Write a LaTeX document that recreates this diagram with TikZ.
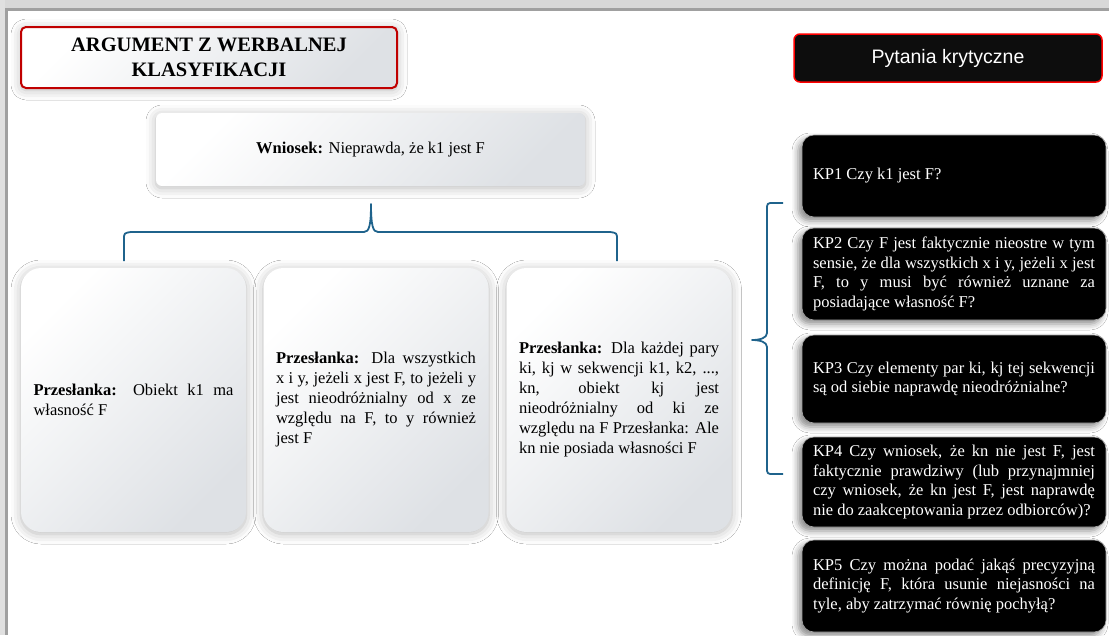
\documentclass[tikz,border=0pt]{standalone}
\usepackage{fontspec}
\setmainfont{Liberation Serif}
\newfontfamily\pytfont{Liberation Sans}
\usepackage{xcolor}
\definecolor{ramkared}{RGB}{192,0,0}
\definecolor{jaskrawyred}{RGB}{255,0,0}
\definecolor{klamrablue}{RGB}{31,99,140}
\definecolor{tlogray}{RGB}{222,225,229}
\definecolor{prawieczarny}{RGB}{13,13,13}
\definecolor{pasekgray}{RGB}{216,216,216}
\definecolor{pasekdark}{RGB}{160,160,160}
\usetikzlibrary{positioning,shadows.blur,calc}
\newcommand{\tekstfont}{\fontsize{16.5}{20}\selectfont}
\newcommand{\kpfont}{\fontsize{16.5}{19.5}\selectfont}

\begin{document}
\begin{tikzpicture}[x=1pt,y=-1pt,
  jasny/.style={top color=white,bottom color=tlogray,shading angle=45,
    blur shadow={shadow xshift=0pt,shadow yshift=-2pt,shadow blur radius=10pt,shadow opacity=28}},
  tytul/.style={jasny,draw=ramkared,line width=2pt,rounded corners=5pt,
    minimum width=376pt,minimum height=61pt,align=center,font=\fontsize{20.5}{25}\selectfont\bfseries},
  pytania/.style={fill=prawieczarny,draw=jaskrawyred,line width=1.5pt,rounded corners=6pt,
    minimum width=308pt,minimum height=48pt,text=white,font=\pytfont\fontsize{19.5}{22}\selectfont},
  wniosek/.style={jasny,rounded corners=6pt,minimum width=429pt,minimum height=73pt,font=\tekstfont},
  przeslanka/.style={jasny,rounded corners=20pt,minimum width=225pt,minimum height=264pt,
    text width=200pt,align=justify,font=\tekstfont},
  kp/.style={fill=black,draw=gray!70,line width=0.6pt,rounded corners=12pt,minimum width=304pt,
    text width=282pt,align=justify,text=white,font=\kpfont,
    blur shadow={shadow xshift=-4pt,shadow yshift=-4pt,shadow blur radius=6pt,shadow opacity=45}},
  klamra/.style={draw=klamrablue,line width=1.8pt,line join=round}]
  % tlo i ramka strony
  \fill[white] (0,0) rectangle (1109,635);
  \useasboundingbox (0,0) rectangle (1109,635);
  \fill[pasekgray] (0,0) rectangle (1109,8);
  \fill[pasekdark] (8,8) rectangle (1109,11);
  \fill[pasekgray!80!white] (0,0) rectangle (5,635);
  \fill[pasekdark] (5,8) rectangle (8,635);

  \node[tytul] (tytul) at (209,57.5) {ARGUMENT Z WERBALNEJ\\KLASYFIKACJI};
  \node[pytania] (pytania) at (948,58) {Pytania krytyczne};
  \node[wniosek] (wniosek) at (370.5,149.5) {\textbf{Wniosek:} Nieprawda, że k1 jest F};

  % przeslanki
  \node[przeslanka] (p1) at (133.5,400) {\textbf{Przesłanka:} Obiekt k1 ma\linebreak własność F};
  \node[przeslanka] (p2) at (376,400) {\textbf{Przesłanka:} Dla wszystkich\linebreak x i y, jeżeli x jest F, to jeżeli y\linebreak jest nieodróżnialny od x ze\linebreak względu na F, to y również\linebreak jest F};
  \node[przeslanka] (p3) at (619,400) {\textbf{Przesłanka:} Dla każdej pary\linebreak ki, kj w sekwencji k1, k2, ...,\linebreak kn, obiekt kj jest\linebreak nieodróżnialny od ki ze\linebreak względu na F Przesłanka: Ale\linebreak kn nie posiada własności F};

  % pytania krytyczne
  \node[kp,minimum height=82pt] (kp1) at (954,176) {KP1 Czy k1 jest F?};
  \node[kp,minimum height=92pt] (kp2) at (954,274) {KP2 Czy F jest faktycznie nieostre w tym\linebreak sensie, że dla wszystkich x i y, jeżeli x jest\linebreak F, to y musi być również uznane za\linebreak posiadające własność F?};
  \node[kp,minimum height=88pt] (kp3) at (954,379) {KP3 Czy elementy par ki, kj tej sekwencji\linebreak są od siebie naprawdę nieodróżnialne?};
  \node[kp,minimum height=90pt] (kp4) at (954,482) {KP4 Czy wniosek, że kn nie jest F, jest\linebreak faktycznie prawdziwy (lub przynajmniej\linebreak czy wniosek, że kn jest F, jest naprawdę\linebreak nie do zaakceptowania przez odbiorców)?};
  \node[kp,minimum height=92pt] (kp5) at (954,586) {KP5 Czy można podać jakąś precyzyjną\linebreak definicję F, która usunie niejasności na\linebreak tyle, aby zatrzymać równię pochyłą?};

  % klamry
  \draw[klamra] (124,261) -- (124,240) .. controls (124,233) .. (131,232) -- (364,232)
    .. controls (369,232) and (371,226) .. (371,204)
    .. controls (371,226) and (373,232) .. (378,232) -- (610,232)
    .. controls (617,233) .. (617,240) -- (617,261);
  \draw[klamra] (783,203) -- (774,203) .. controls (767,203) .. (767,210) -- (767,333)
    .. controls (767,338) and (760,340) .. (752,340)
    .. controls (760,340) and (767,342) .. (767,347) -- (767,467)
    .. controls (767,474) .. (774,474) -- (783,474);
\end{tikzpicture}
\end{document}
